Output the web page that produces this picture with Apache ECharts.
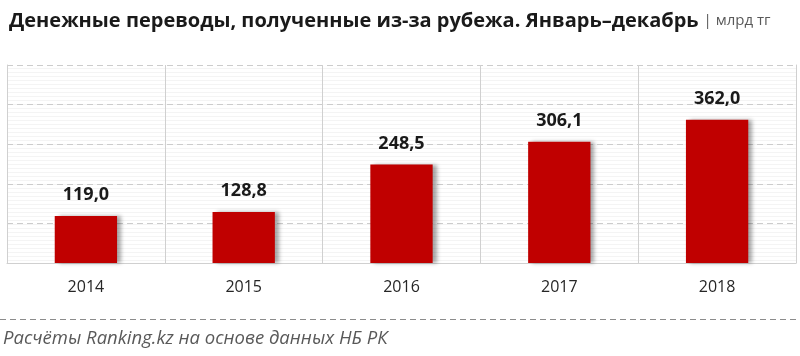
<!DOCTYPE html>
<html><head><meta charset="utf-8">
<script src="https://cdn.jsdelivr.net/npm/echarts@6/dist/echarts.min.js"></script>
<style>html,body{margin:0;padding:0;background:#fff}#c{width:800px;height:356px}</style>
</head><body><div id="c"></div>
<script>
const categories = ['2014', '2015', '2016', '2017', '2018'];
const values = [119.0, 128.8, 248.5, 306.1, 362.0];
const titleMain = 'Денежные переводы, полученные из-за рубежа. Январь–декабрь';
const titleUnit = '| млрд тг';
const sourceText = 'Расчёты Ranking.kz на основе данных НБ РК';

const chart = echarts.init(document.getElementById('c'), null, {renderer: 'canvas'});

// faint stripes background pattern
const pc = document.createElement('canvas');
pc.width = 4; pc.height = 4;
const px = pc.getContext('2d');
px.fillStyle = '#ffffff'; px.fillRect(0, 0, 4, 4);
px.fillStyle = '#f4f4f4'; px.fillRect(0, 0, 4, 1);

chart.setOption({
  backgroundColor: '#fff',
  animation: false,
  title: {
    left: 4, top: 6,
    text: '{a|' + titleMain + '} {b|' + titleUnit + '}',
    textStyle: {
      rich: {
        a: {fontFamily: 'Open Sans', fontWeight: 'bold', fontSize: 20, color: '#1a1a1a'},
        b: {fontFamily: 'Open Sans', fontWeight: 'normal', fontSize: 15, color: '#595959'}
      }
    }
  },
  grid: {left: 7, right: 4, top: 65, bottom: 93, show: true, borderWidth: 0,
         backgroundColor: {image: pc, repeat: 'repeat'}},
  xAxis: {
    type: 'category', data: categories,
    axisLine: {show: true, lineStyle: {color: '#d0d0d0', width: 1}},
    axisTick: {show: false},
    axisLabel: {margin: 16, fontFamily: 'Open Sans', fontSize: 16, color: '#262626'},
    splitLine: {show: true, lineStyle: {color: '#d0d0d0', width: 1}}
  },
  yAxis: [{
    type: 'value', min: 0, max: 500, interval: 100,
    axisLine: {show: true, lineStyle: {color: '#d0d0d0'}},
    axisTick: {show: false}, axisLabel: {show: false},
    splitLine: {show: true, lineStyle: {color: '#cccccc', type: [6, 4]}}
  }, {
    type: 'value', position: 'right', min: 0, max: 500, interval: 100,
    axisLine: {show: true, lineStyle: {color: '#d0d0d0'}},
    axisTick: {show: false}, axisLabel: {show: false}, splitLine: {show: false}
  }],
  series: [{
    type: 'bar', data: values, barWidth: '39.5%',
    itemStyle: {color: '#c00000', shadowColor: 'rgba(0,0,0,0.35)', shadowBlur: 4, shadowOffsetX: 4, shadowOffsetY: 0},
    label: {
      show: true, position: 'top', distance: 12,
      fontFamily: 'Open Sans', fontWeight: 'bold', fontSize: 18, color: '#1a1a1a',
      formatter: p => p.value.toFixed(1).replace('.', ',')
    }
  }],
  graphic: [
    {type: 'line', shape: {x1: 0, y1: 319.5, x2: 797, y2: 319.5},
     style: {stroke: '#8c8c8c', lineWidth: 1, lineDash: [6, 4]}},
    {type: 'text', left: 3, top: 329,
     style: {text: sourceText, fontFamily: 'Open Sans', fontStyle: 'italic', fontSize: 18.5, fill: '#595959'}}
  ]
});
</script></body></html>
